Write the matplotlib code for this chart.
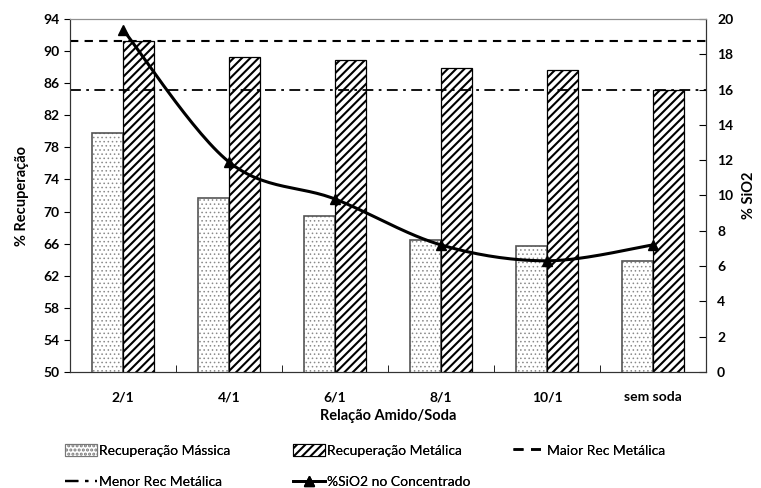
import numpy as np
import matplotlib as mpl
import matplotlib.pyplot as plt
from matplotlib.lines import Line2D
from matplotlib.patches import Patch

plt.rcParams['font.family'] = ['Lato', 'DejaVu Sans']
plt.rcParams['hatch.linewidth'] = 1.5

categorias = ['2/1', '4/1', '6/1', '8/1', '10/1', 'sem soda']
rec_massica = [79.8, 71.7, 69.4, 66.4, 65.7, 63.8]
rec_metalica = [91.3, 89.3, 88.9, 87.9, 87.6, 85.1]
maior_rec = 91.3
menor_rec = 85.1
sio2 = [19.4, 11.9, 9.8, 7.2, 6.3, 7.2]


def suaviza(x, y, n=30):
    # curva suavizada (bezier cubica, estilo Excel) passando pelos pontos
    p = np.column_stack([x, y]).astype(float)
    ext = np.vstack([p[0], p, p[-1]])
    pts = []
    t = np.linspace(0, 1, n)[:, None]
    for i in range(len(p) - 1):
        p0, p1 = ext[i + 1], ext[i + 2]
        c1 = p0 + (ext[i + 2] - ext[i]) / 6
        c2 = p1 - (ext[i + 3] - ext[i + 1]) / 6
        seg = ((1 - t) ** 3) * p0 + 3 * ((1 - t) ** 2) * t * c1 + 3 * (1 - t) * t ** 2 * c2 + t ** 3 * p1
        pts.append(seg if i == 0 else seg[1:])
    pts = np.vstack(pts)
    return pts[:, 0], pts[:, 1]


def hachura_fina(patches, lw=0.6):
    # pontos pequenos: hachura com traço mais fino que o das listras
    for p in patches:
        if hasattr(p, 'set_hatch_linewidth'):
            p.set_hatch_linewidth(lw)
        else:
            p._hatch_linewidth = lw


x = np.arange(len(categorias))
w = 0.288
ls_maior = (0, (4, 3))
ls_menor = (0, (6, 3, 1.5, 3))

fig = plt.figure(figsize=(7.61, 4.88), dpi=100)
ax = fig.add_axes([70 / 761, 1 - 372 / 488, 636 / 761, 353 / 488])

# barras pontilhadas: hachura cinza + contorno separado
with mpl.rc_context({'hatch.linewidth': 0.6}):
    pontos = ax.bar(x - w / 2, rec_massica, w, color='white', edgecolor='#8a8a8a',
                    hatch='....', linewidth=0, zorder=2)
hachura_fina(pontos)
ax.bar(x - w / 2, rec_massica, w, fill=False, edgecolor='#555555',
       linewidth=1.2, zorder=2)
ax.bar(x + w / 2, rec_metalica, w, color='white', edgecolor='black',
       hatch='////', linewidth=0.9, zorder=2)
ax.axhline(maior_rec, color='black', lw=1.5, ls=ls_maior, zorder=3)
ax.axhline(menor_rec, color='black', lw=1.3, ls=ls_menor, zorder=3)

ax.set_ylim(50, 94)
ax.set_yticks(np.arange(50, 95, 4))
ax.set_xlim(-0.5, 5.5)
ax.set_xticks(x)
ax.set_xticklabels(categorias, fontweight='bold', fontsize=10)
ax.set_xticks(np.arange(0.5, 5.5, 1), minor=True)
ax.tick_params(axis='x', which='major', length=0, pad=14)
ax.tick_params(axis='x', which='minor', direction='in', length=5)
ax.tick_params(axis='y', direction='out', length=4, labelsize=10)
for lab in ax.get_yticklabels():
    lab.set_fontweight('bold')
ax.set_ylabel('% Recuperação', fontweight='bold', fontsize=10.5, labelpad=10)
ax.set_xlabel('Relação Amido/Soda', fontweight='bold', fontsize=10.5, labelpad=4)

ax2 = ax.twinx()
xs, ys = suaviza(x, sio2)
ax2.plot(xs, ys, color='black', lw=2.2, zorder=4)
ax2.plot(x, sio2, ls='none', marker='^', color='black', ms=7, zorder=5)
ax2.set_ylim(0, 20)
ax2.set_yticks(np.arange(0, 21, 2))
ax2.tick_params(axis='y', direction='in', length=5, labelsize=10, pad=8)
for lab in ax2.get_yticklabels():
    lab.set_fontweight('bold')
ax2.set_ylabel('% SiO2', fontweight='bold', fontsize=10.5, labelpad=6)

for a in (ax, ax2):
    for s in ('left', 'right', 'bottom'):
        a.spines[s].set_color('#333333')
    a.spines['top'].set_color('#909090')

# legenda em tres colunas, cada uma posicionada separadamente
with mpl.rc_context({'hatch.linewidth': 0.6}):
    h_mass = Patch(facecolor='white', edgecolor='#777777', hatch='....', lw=0.8)
hachura_fina([h_mass])
h_met = Patch(facecolor='white', edgecolor='black', hatch='////', lw=0.8)
h_maior = Line2D([], [], color='black', lw=1.8, ls=ls_maior)
h_menor = Line2D([], [], color='black', lw=1.6, ls=ls_menor)
h_sio2 = Line2D([], [], color='black', lw=2, marker='^', ms=7)
colunas = [
    (65, [h_mass, h_menor], ['Recuperação Mássica', 'Menor Rec Metálica']),
    (293, [h_met, h_sio2], ['Recuperação Metálica', '%SiO2 no Concentrado']),
    (513, [h_maior], ['Maior Rec Metálica']),
]
for x0, hs, ls in colunas:
    leg = fig.legend(hs, ls, loc='upper left', bbox_to_anchor=(x0 / 761, 1 - 444 / 488),
                     frameon=False, fontsize=10, handlelength=2.3, handleheight=0.9,
                     handletextpad=0.15, labelspacing=1.35, borderpad=0, borderaxespad=0)
    fig.add_artist(leg)

fig.savefig('out.png', dpi=100)
